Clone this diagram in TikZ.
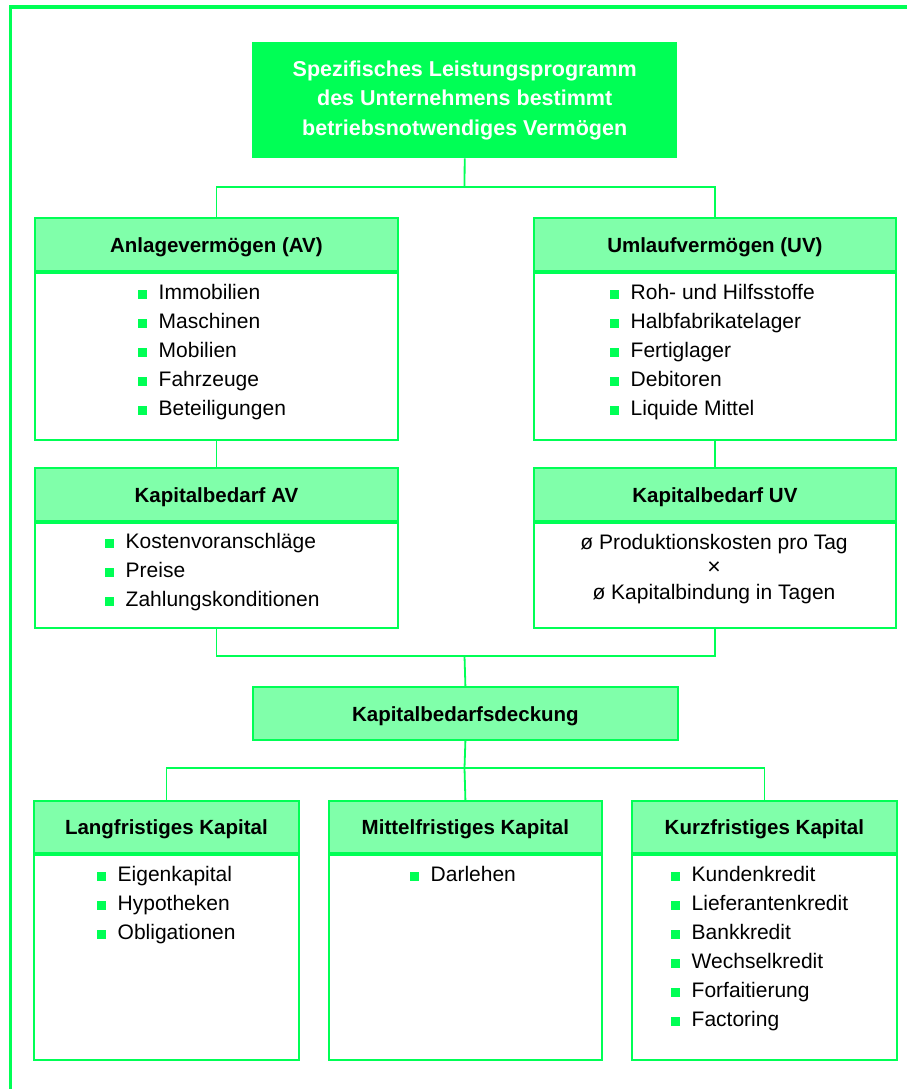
\documentclass[tikz,border=0pt]{standalone}
\usepackage{fontspec}
\setmainfont{Liberation Sans}
\definecolor{bright}{RGB}{0,255,85}
\definecolor{light}{RGB}{128,255,170}
\newcommand\bul{\textcolor{bright}{\rule{9pt}{9pt}}\hspace{11.5pt}}
\begin{document}
\begin{tikzpicture}[x=1pt,y=-1pt,
  frame/.style={draw=bright,line width=3.2pt},
  conn/.style={draw=bright,line width=1.8pt},
  hdr/.style={draw=bright,fill=light,line width=1.8pt,rectangle,anchor=north west,inner sep=0pt,
    font=\fontsize{20.5}{24}\selectfont\bfseries,text height=17pt,text depth=1pt},
  bodybox/.style={draw=bright,fill=white,line width=1.8pt,rectangle,anchor=north west,inner sep=0pt},
  item/.style={anchor=base west,inner sep=0pt,font=\fontsize{21}{25}\selectfont},
  ctext/.style={anchor=base,inner sep=0pt,font=\fontsize{21}{25}\selectfont},
  topbox/.style={fill=bright,rectangle,anchor=north west,inner sep=0pt,align=center,text=white,
    font=\fontsize{21.5}{29.5}\selectfont\bfseries}]
\useasboundingbox (0,0) rectangle (906,1089);
\draw[frame] (10.5,1095) -- (10.5,7) -- (912,7);

% top box
\node[topbox,minimum width=425pt,minimum height=116pt] (tb) at (252,42)
  {Spezifisches Leistungsprogramm\\des Unternehmens bestimmt\\betriebsnotwendiges Vermögen};

% AV
\node[hdr,minimum width=363pt,minimum height=53pt] (avh) at (34,217) {Anlagevermögen (AV)};
\node[bodybox,minimum width=363pt,minimum height=167pt] (avb) at (avh.south west) {};
\foreach \t [count=\i] in {Immobilien,Maschinen,Mobilien,Fahrzeuge,Beteiligungen}
  \node[item] (av\i) at (138,{299+29*(\i-1)}) {\bul\t};

% UV
\node[hdr,minimum width=362pt,minimum height=53pt] (uvh) at (533,217) {Umlaufvermögen (UV)};
\node[bodybox,minimum width=362pt,minimum height=167pt] (uvb) at (uvh.south west) {};
\foreach \t [count=\i] in {Roh- und Hilfsstoffe,Halbfabrikatelager,Fertiglager,Debitoren,Liquide Mittel}
  \node[item] (uv\i) at (610,{299+29*(\i-1)}) {\bul\t};

% Kapitalbedarf AV
\node[hdr,minimum width=363pt,minimum height=53pt] (kavh) at (34,467) {Kapitalbedarf AV};
\node[bodybox,minimum width=363pt,minimum height=105pt] (kavb) at (kavh.south west) {};
\foreach \t [count=\i] in {Kostenvoranschläge,Preise,Zahlungskonditionen}
  \node[item] (kav\i) at (105,{548+29*(\i-1)}) {\bul\t};

% Kapitalbedarf UV
\node[hdr,minimum width=362pt,minimum height=53pt] (kuvh) at (533,467) {Kapitalbedarf UV};
\node[bodybox,minimum width=362pt,minimum height=105pt] (kuvb) at (kuvh.south west) {};
\node[ctext] (kuv1) at (714,549) {ø Produktionskosten pro Tag};
\node[anchor=base,inner sep=0pt,text height=4pt,text depth=0pt,font=\fontsize{23}{26}\selectfont] (kuv2) at (714,574) {×};
\node[ctext] (kuv3) at (714,599) {ø Kapitalbindung in Tagen};

% Kapitalbedarfsdeckung
\node[hdr,minimum width=425pt,minimum height=53pt] (kd) at (252,686) {Kapitalbedarfsdeckung};

% bottom row
\node[hdr,minimum width=265pt,minimum height=52pt] (lh) at (33,800) {Langfristiges Kapital};
\node[bodybox,minimum width=265pt,minimum height=205pt] (lb) at (lh.south west) {};
\foreach \t [count=\i] in {Eigenkapital,Hypotheken,Obligationen}
  \node[item] (l\i) at (97,{881+29*(\i-1)}) {\bul\t};

\node[hdr,minimum width=273pt,minimum height=52pt] (mh) at (328,800) {Mittelfristiges Kapital};
\node[bodybox,minimum width=273pt,minimum height=205pt] (mb) at (mh.south west) {};
\node[item] (m1) at (410,881) {\bul Darlehen};

\node[hdr,minimum width=265pt,minimum height=52pt] (kh) at (631,800) {Kurzfristiges Kapital};
\node[bodybox,minimum width=265pt,minimum height=205pt] (kb) at (kh.south west) {};
\foreach \t [count=\i] in {Kundenkredit,Lieferantenkredit,Bankkredit,Wechselkredit,Forfaitierung,Factoring}
  \node[item] (k\i) at (671,{881+29*(\i-1)}) {\bul\t};

% connectors
\coordinate (j1) at (464.5,187);
\coordinate (j2) at (464.5,656);
\coordinate (j3) at (464.5,768);
\draw[conn] (tb.south) -- (j1);
\draw[conn] (avh.north) |- (j1) -| (uvh.north);
\draw[conn] (avb.south) -- (kavh.north);
\draw[conn] (uvb.south) -- (kuvh.north);
\draw[conn] (kavb.south) |- (j2) -| (kuvb.south);
\draw[conn] (j2) -- (kd.north);
\draw[conn] (kd.south) -- (j3);
\draw[conn] (lh.north) |- (j3) -| (kh.north);
\draw[conn] (j3) -- (mh.north);
\end{tikzpicture}
\end{document}
